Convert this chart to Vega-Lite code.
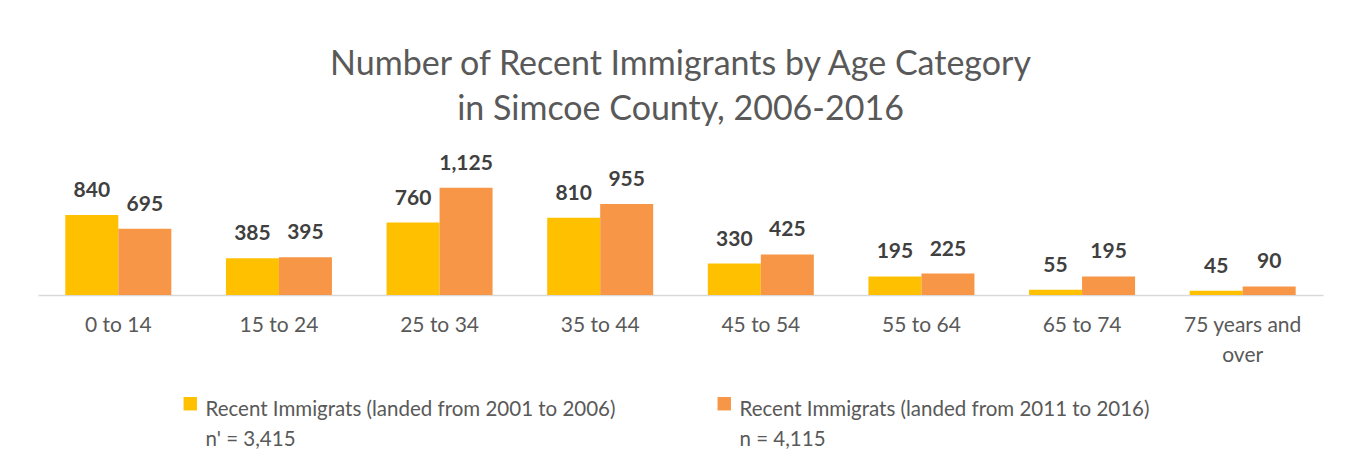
{
  "$schema": "https://vega.github.io/schema/vega-lite/v6.json",
  "width": 1285,
  "height": 143,
  "padding": {"left": 38, "right": 28, "top": 48, "bottom": 5},
  "background": "white",
  "config": {
    "view": {"stroke": null},
    "style": {"guide-label": {"lineHeight": 30}}
  },
  "title": {
    "text": ["Number of Recent Immigrants by Age Category", "in Simcoe County, 2006-2016"],
    "font": "Lato",
    "fontSize": 34,
    "fontWeight": "normal",
    "color": "#595959",
    "lineHeight": 45,
    "offset": 25,
    "anchor": "middle"
  },
  "data": {
    "values": [
      {"age": "0 to 14", "series": "Recent Immigrats (landed from 2001 to 2006)", "value": 840},
      {"age": "0 to 14", "series": "Recent Immigrats (landed from 2011 to 2016)", "value": 695},
      {"age": "15 to 24", "series": "Recent Immigrats (landed from 2001 to 2006)", "value": 385},
      {"age": "15 to 24", "series": "Recent Immigrats (landed from 2011 to 2016)", "value": 395},
      {"age": "25 to 34", "series": "Recent Immigrats (landed from 2001 to 2006)", "value": 760},
      {"age": "25 to 34", "series": "Recent Immigrats (landed from 2011 to 2016)", "value": 1125},
      {"age": "35 to 44", "series": "Recent Immigrats (landed from 2001 to 2006)", "value": 810},
      {"age": "35 to 44", "series": "Recent Immigrats (landed from 2011 to 2016)", "value": 955},
      {"age": "45 to 54", "series": "Recent Immigrats (landed from 2001 to 2006)", "value": 330},
      {"age": "45 to 54", "series": "Recent Immigrats (landed from 2011 to 2016)", "value": 425},
      {"age": "55 to 64", "series": "Recent Immigrats (landed from 2001 to 2006)", "value": 195},
      {"age": "55 to 64", "series": "Recent Immigrats (landed from 2011 to 2016)", "value": 225},
      {"age": "65 to 74", "series": "Recent Immigrats (landed from 2001 to 2006)", "value": 55},
      {"age": "65 to 74", "series": "Recent Immigrats (landed from 2011 to 2016)", "value": 195},
      {"age": "75 years and over", "series": "Recent Immigrats (landed from 2001 to 2006)", "value": 45},
      {"age": "75 years and over", "series": "Recent Immigrats (landed from 2011 to 2016)", "value": 90}
    ]
  },
  "encoding": {
    "x": {
      "field": "age",
      "type": "nominal",
      "sort": null,
      "scale": {"paddingInner": 0.34, "paddingOuter": 0.17},
      "axis": {
        "title": null,
        "labelAngle": 0,
        "labelFont": "Lato",
        "labelFontSize": 21,
        "labelColor": "#595959",
        "labelPadding": 19,
        "labelLineHeight": 30,
        "labelLimit": 300,
        "labelExpr": "datum.label == '75 years and over' ? ['75 years and', 'over'] : datum.label",
        "ticks": false,
        "domainColor": "#D9D9D9",
        "domainWidth": 1.5
      }
    },
    "xOffset": {"field": "series", "type": "nominal"},
    "y": {
      "field": "value",
      "type": "quantitative",
      "scale": {"domain": [0, 1500]},
      "axis": null
    }
  },
  "layer": [
    {
      "mark": {"type": "bar"},
      "encoding": {
        "color": {
          "field": "series",
          "type": "nominal",
          "scale": {"range": ["#FFC000", "#F79646"]},
          "legend": {
            "orient": "none",
            "legendX": 142,
            "legendY": 238,
            "direction": "horizontal",
            "title": null,
            "symbolType": "M-1,-0.5L1,-0.5L1,1.5L-1,1.5Z",
            "symbolSize": 180,
            "symbolStrokeWidth": 0,
            "labelFont": "Lato",
            "labelFontSize": 20.5,
            "labelColor": "#595959",
            "labelLimit": 600,
            "labelBaseline": "top",
            "labelOffset": 5,
            "columnPadding": 98,
            "labelExpr": "datum.label == 'Recent Immigrats (landed from 2001 to 2006)' ? [datum.label, \"n' = 3,415\"] : [datum.label, 'n = 4,115']"
          }
        }
      }
    },
    {
      "mark": {"type": "text", "baseline": "bottom", "dy": -14, "font": "Lato", "fontSize": 21, "fontWeight": "bold", "color": "#404040"},
      "encoding": {
        "text": {"field": "value", "type": "quantitative", "format": ","}
      }
    }
  ]
}
